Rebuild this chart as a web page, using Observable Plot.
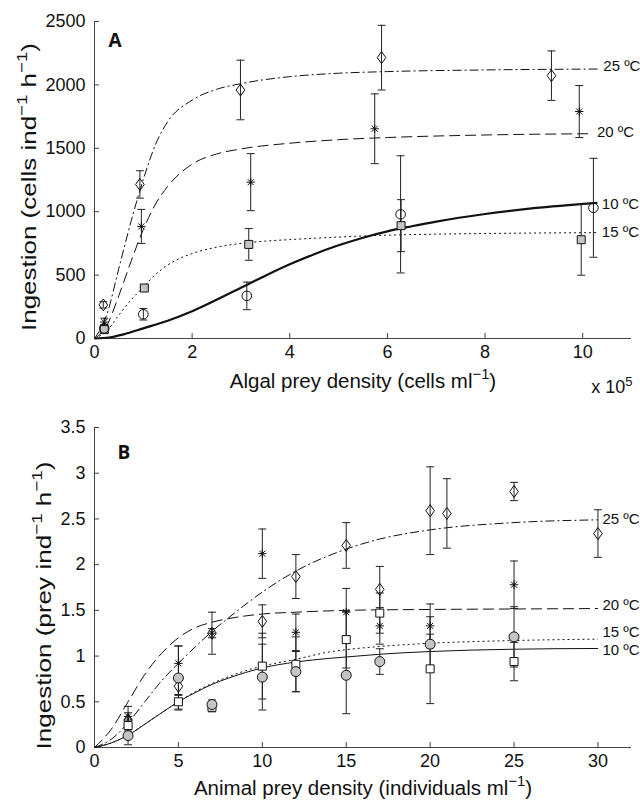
<!DOCTYPE html>
<html><head><meta charset="utf-8">
<script src="https://cdn.jsdelivr.net/npm/d3@7"></script>
<script src="https://cdn.jsdelivr.net/npm/@observablehq/plot@0.6"></script>
<style>
body{margin:0;background:#fff;}
#chart{width:640px;height:805px;overflow:hidden;}
#chart svg{display:block;}
</style></head><body><div id="chart"></div>
<script>
// ===== Panel A: algal prey (x in 10^5 cells ml^-1, y in cells ind^-1 h^-1) =====
const seriesNames = ["25 ºC", "20 ºC", "15 ºC", "10 ºC"];
const aXTicks = [0, 2, 4, 6, 8, 10];
const aYTicks = [0, 500, 1000, 1500, 2000, 2500];

const a25x = [0.18, 0.93, 2.99, 5.88, 9.36];
const a25y = [265, 1215, 1960, 2215, 2073];
const a25e = [25, 108, 235, 255, 195];
const a20x = [0.2, 0.96, 3.2, 5.74, 9.93];
const a20y = [130, 884, 1233, 1654, 1790];
const a20e = [30, 134, 225, 275, 205];
const a15x = [0.2, 1.02, 3.16, 6.28, 9.97];
const a15y = [70, 398, 742, 890, 779];
const a15e = [20, 15, 125, 205, 280];
const a10x = [0.2, 1.0, 3.12, 6.27, 10.22];
const a10y = [80, 191, 336, 979, 1031];
const a10e = [30, 45, 109, 462, 390];

// fitted curves
const a25cx = [0, 0.25, 0.5, 0.75, 1, 1.25, 1.5, 2, 2.5, 3, 4, 5, 6, 8, 10.33];
const a25cy = [0, 185, 555, 925, 1255, 1530, 1710, 1880, 1965, 2010, 2065, 2092, 2105, 2118, 2125];
const a20cx = [0, 0.25, 0.5, 0.75, 1, 1.25, 1.5, 2, 2.5, 3, 4, 5, 6, 8, 10.2];
const a20cy = [0, 100, 340, 610, 860, 1060, 1200, 1375, 1455, 1495, 1540, 1568, 1585, 1605, 1615];
const a15cx = [0, 0.25, 0.5, 0.75, 1, 1.25, 1.5, 2, 2.5, 3, 3.5, 4, 5, 6, 7, 8, 10.3];
const a15cy = [0, 60, 185, 305, 405, 505, 580, 670, 720, 750, 768, 780, 800, 815, 823, 828, 835];
const a10cx = [0, 0.3, 0.6, 1, 1.5, 2, 2.5, 3, 3.5, 4, 4.5, 5, 5.5, 6, 6.5, 7, 8, 9, 10.3];
const a10cy = [0, 8, 33, 80, 140, 215, 305, 400, 495, 585, 665, 735, 795, 845, 885, 922, 982, 1028, 1070];

// ===== Panel B: animal prey (x in individuals ml^-1, y in prey ind^-1 h^-1) =====
const bXTicks = [0, 5, 10, 15, 20, 25, 30];
const bYTicks = [0, 0.5, 1, 1.5, 2, 2.5, 3, 3.5];

const b25x = [2, 5, 7, 10, 12, 15, 17, 20, 21, 25, 30];
const b25y = [0.30, 0.67, 1.25, 1.38, 1.87, 2.21, 1.73, 2.59, 2.56, 2.80, 2.34];
const b25e = [0.08, 0.1, 0.05, 0.18, 0.24, 0.25, 0.25, 0.48, 0.38, 0.10, 0.26];
const b20x = [2, 5, 7, 10, 12, 15, 17, 20, 25];
const b20y = [0.34, 0.92, 1.25, 2.12, 1.26, 1.48, 1.33, 1.33, 1.78];
const b20e = [0.11, 0.19, 0.23, 0.27, 0.2, 0.26, 0.2, 0.24, 0.26];
const b15x = [2, 5, 7, 10, 12, 15, 17, 20, 25];
const b15y = [0.24, 0.50, 0.44, 0.89, 0.91, 1.18, 1.47, 0.86, 0.94];
const b15e = [0.06, 0.08, 0.05, 0.36, 0.3, 0.31, 0.22, 0.38, 0.21];
const b10x = [2, 5, 7, 10, 12, 15, 17, 20, 25];
const b10y = [0.13, 0.76, 0.47, 0.77, 0.83, 0.79, 0.94, 1.13, 1.21];
const b10e = [0.1, 0.35, 0.05, 0.36, 0.22, 0.42, 0.14, 0.3, 0.33];

const b25cx = [0, 1, 2, 3, 4, 5, 6, 7, 8, 10, 12, 15, 17, 20, 25, 30];
const b25cy = [0, 0.09, 0.27, 0.5, 0.73, 0.92, 1.1, 1.27, 1.42, 1.7, 1.93, 2.17, 2.28, 2.38, 2.46, 2.49];
const b20cx = [0, 1, 2, 3, 4, 5, 6, 7, 8, 10, 12, 15, 20, 25, 30];
const b20cy = [0, 0.2, 0.5, 0.8, 1.03, 1.2, 1.31, 1.37, 1.41, 1.46, 1.48, 1.5, 1.51, 1.515, 1.52];
const b15cx = [0, 1, 2, 3, 4, 5, 6, 7, 8, 9, 10, 12, 14, 15, 17, 20, 25, 30];
const b15cy = [0, 0.05, 0.135, 0.255, 0.38, 0.5, 0.61, 0.7, 0.775, 0.84, 0.89, 0.965, 1.045, 1.07, 1.105, 1.14, 1.17, 1.185];
const b10cx = [0, 1, 2, 3, 4, 5, 6, 7, 8, 9, 10, 12, 14, 15, 17, 20, 25, 30];
const b10cy = [0, 0.05, 0.135, 0.255, 0.38, 0.5, 0.6, 0.69, 0.76, 0.82, 0.87, 0.935, 0.975, 0.99, 1.02, 1.05, 1.075, 1.083];

// ===== helpers =====
const rows = (xs, ys, es) => xs.map((x, i) => ({x, y: ys[i], e: es ? es[i] : 0}));
const R = (s) => Math.sqrt(s / Math.PI);
const capSym = {draw(c, s) { const r = R(s); c.moveTo(-r, 0); c.lineTo(r, 0); }};
const diamondSym = {draw(c, s) { const r = R(s), w = r * 0.72; c.moveTo(0, -r); c.lineTo(w, 0); c.lineTo(0, r); c.lineTo(-w, 0); c.closePath(); }};
const squareSym = {draw(c, s) { const r = R(s); c.rect(-r, -r, 2 * r, 2 * r); }};
const starSym = {draw(c, s) { const r = R(s), d = r * 0.72; c.moveTo(-r, 0); c.lineTo(r, 0); c.moveTo(0, -r); c.lineTo(0, r); c.moveTo(-d, -d); c.lineTo(d, d); c.moveTo(-d, d); c.lineTo(d, -d); }};
const circleSym = {draw(c, s) { const r = R(s); c.moveTo(r, 0); c.arc(0, 0, r, 0, 2 * Math.PI); }};

const FONT = "'Liberation Sans', Arial, Helvetica, sans-serif";
const INK = "#111";
const AXIS = "#444";
const TICKFS = 18, TITLEFS = 20.5, YTITLEFS = 21;

function panel(cfg) {
  const W = 640, ML = 94, MR = 9;
  const plotW = W - ML - MR;
  const plotH = cfg.height - cfg.marginTop - cfg.marginBottom;
  const marks = [];
  cfg.series.forEach(s => {
    marks.push(Plot.line(s.curve, {x: "x", y: "y", curve: "monotone-x", stroke: INK,
      strokeWidth: s.sw, strokeDasharray: s.dash, strokeLinecap: "butt"}));
  });
  cfg.series.forEach(s => {
    marks.push(Plot.ruleX(s.pts, {x: "x", y1: d => d.y - d.e, y2: d => d.y + d.e, stroke: "#222", strokeWidth: 1}));
    marks.push(Plot.dot(s.pts, {x: "x", y: d => d.y - d.e, symbol: capSym, r: 4, stroke: "#222", strokeWidth: 1, fill: "none"}));
    marks.push(Plot.dot(s.pts, {x: "x", y: d => d.y + d.e, symbol: capSym, r: 4, stroke: "#222", strokeWidth: 1, fill: "none"}));
  });
  cfg.series.forEach(s => {
    marks.push(Plot.dot(s.pts, {x: "x", y: "y", symbol: s.sym, r: s.r, stroke: "#111", strokeWidth: 1, fill: s.fill}));
  });
  cfg.series.forEach(s => {
    const last = s.curve[s.curve.length - 1];
    marks.push(Plot.text([last], {x: "x", y: "y", text: () => s.name, dx: cfg.labelDx, dy: s.labelDy,
      textAnchor: "start", fontSize: 15, fill: INK, fontFamily: FONT}));
  });
  return Plot.plot({
    width: W, height: cfg.height,
    marginLeft: ML, marginRight: MR, marginTop: cfg.marginTop, marginBottom: cfg.marginBottom,
    style: {fontFamily: FONT, fontSize: TICKFS + "px", color: INK, background: "#fff", overflow: "visible"},
    x: {domain: cfg.xDomain},
    y: {domain: cfg.yDomain},
    marks: [
      Plot.tickX(cfg.xTicks, {x: d => d, insetTop: plotH - 5, stroke: AXIS, strokeWidth: 1}),
      Plot.tickY(cfg.yTicks, {y: d => d, insetRight: plotW - 5, stroke: AXIS, strokeWidth: 1}),
      Plot.ruleX([cfg.xDomain[0]], {stroke: AXIS, strokeWidth: 1}),
      Plot.ruleY([cfg.yDomain[0]], {stroke: AXIS, strokeWidth: 1}),
      Plot.axisX({ticks: cfg.xTicks, tickSize: 0, tickPadding: 7, tickFormat: d => String(d), label: null, fontSize: TICKFS, fill: INK}),
      Plot.axisY({ticks: cfg.yTicks, tickSize: 0, tickPadding: 9, tickFormat: d => String(d), label: null, fontSize: TICKFS, fill: INK}),
      ...marks,
      Plot.text([cfg.xTitle], {frameAnchor: "bottom", dy: cfg.xTitleDy, text: d => d, textAnchor: "middle", fontSize: TITLEFS, fill: INK, lineAnchor: "middle"}),
      Plot.text([cfg.yTitle], {frameAnchor: "left", dx: cfg.yTitleDx, dy: cfg.yTitleDy, rotate: -90, text: d => d, textAnchor: "middle", fontSize: YTITLEFS, fill: INK, lineAnchor: "middle"}),
      Plot.text([cfg.letter], {frameAnchor: "top-left", dx: cfg.letterDx, dy: cfg.letterDy, text: d => d, textAnchor: "start",
        lineAnchor: "middle", fontSize: 19, fontWeight: "bold", fill: INK, fontFamily: "'Open Sans', 'Liberation Sans', sans-serif"}),
      ...(cfg.extra || [])
    ]
  });
}

const chartA = panel({
  height: 405, marginTop: 21, marginBottom: 67,
  xDomain: [0, 11], yDomain: [0, 2500], xTicks: aXTicks, yTicks: aYTicks,
  xTitle: "Algal prey density (cells ml\u207B\u00B9)", xTitleDy: 43,
  yTitle: "Ingestion (cells ind\u207B\u00B9 h\u207B\u00B9)", yTitleDx: -65, yTitleDy: 7,
  letter: "A", letterDx: 14, letterDy: 19, labelDx: 4.5,
  extra: [Plot.text(["x 10\u2075"], {frameAnchor: "bottom-right", dx: 1, dy: 49, text: d => d, textAnchor: "end", fontSize: TICKFS, fill: INK, lineAnchor: "middle"})],
  series: [
    {name: seriesNames[0], pts: rows(a25x, a25y, a25e), curve: rows(a25cx, a25cy), sym: diamondSym, r: 6, fill: "none", dash: "9,3,2,3", sw: 1, labelDy: -3},
    {name: seriesNames[1], pts: rows(a20x, a20y, a20e), curve: rows(a20cx, a20cy), sym: starSym, r: 4.2, fill: "none", dash: "11,5", sw: 1, labelDy: -1.5},
    {name: seriesNames[2], pts: rows(a15x, a15y, a15e), curve: rows(a15cx, a15cy), sym: squareSym, r: 4, fill: "#c4c4c4", dash: "2,3", sw: 1, labelDy: 0},
    {name: seriesNames[3], pts: rows(a10x, a10y, a10e), curve: rows(a10cx, a10cy), sym: circleSym, r: 4.8, fill: "none", dash: null, sw: 2.2, labelDy: 1}
  ]
});

const chartB = panel({
  height: 400, marginTop: 22, marginBottom: 58,
  xDomain: [0, 32], yDomain: [0, 3.5], xTicks: bXTicks, yTicks: bYTicks,
  xTitle: "Animal prey density (individuals ml\u207B\u00B9)", xTitleDy: 41,
  yTitle: "Ingestion (prey ind\u207B\u00B9 h\u207B\u00B9)", yTitleDx: -50, yTitleDy: 18,
  letter: "B", letterDx: 23, letterDy: 25, labelDx: 4.5,
  series: [
    {name: seriesNames[0], pts: rows(b25x, b25y, b25e), curve: rows(b25cx, b25cy), sym: diamondSym, r: 6, fill: "none", dash: "9,3,2,3", sw: 1, labelDy: -1},
    {name: seriesNames[1], pts: rows(b20x, b20y, b20e), curve: rows(b20cx, b20cy), sym: starSym, r: 4.2, fill: "none", dash: "11,5", sw: 1, labelDy: -3},
    {name: seriesNames[2], pts: rows(b15x, b15y, b15e), curve: rows(b15cx, b15cy), sym: squareSym, r: 4, fill: "#fff", dash: "2,3", sw: 1, labelDy: -7},
    {name: seriesNames[3], pts: rows(b10x, b10y, b10e), curve: rows(b10cx, b10cy), sym: circleSym, r: 5, fill: "#c4c4c4", dash: null, sw: 1, labelDy: 2}
  ]
});

const root = document.getElementById("chart");
root.appendChild(chartA);
root.appendChild(chartB);

// render unicode superscripts as raised tspans (real text)
function supify(svg) {
  const NS = "http://www.w3.org/2000/svg";
  svg.querySelectorAll("text").forEach(t => {
    const s = t.textContent;
    if (!/(\u207B\u00B9|\u2075)/.test(s)) return;
    const fs = parseFloat(getComputedStyle(t).fontSize) || 18;
    const parts = s.split(/(\u207B\u00B9|\u2075)/);
    t.textContent = "";
    let raised = false;
    parts.forEach(p => {
      if (!p) return;
      const ts = document.createElementNS(NS, "tspan");
      if (p === "\u207B\u00B9" || p === "\u2075") {
        ts.textContent = p === "\u2075" ? "5" : "\u22121";
        ts.setAttribute("font-size", (fs * 0.72).toFixed(1));
        ts.setAttribute("dy", (-fs * 0.42).toFixed(1));
        raised = true;
      } else {
        ts.textContent = p;
        if (raised) { ts.setAttribute("dy", (fs * 0.42).toFixed(1)); raised = false; }
      }
      t.appendChild(ts);
    });
    t.setAttribute("text-anchor", getComputedStyle(t).textAnchor || "middle");
    if (/^Ingestion/.test(s)) {
      t.setAttribute("text-anchor", "middle");
      t.setAttribute("textLength", "288");
      t.setAttribute("lengthAdjust", "spacingAndGlyphs");
    }
  });
}
supify(chartA);
supify(chartB);
</script>
</body></html>
